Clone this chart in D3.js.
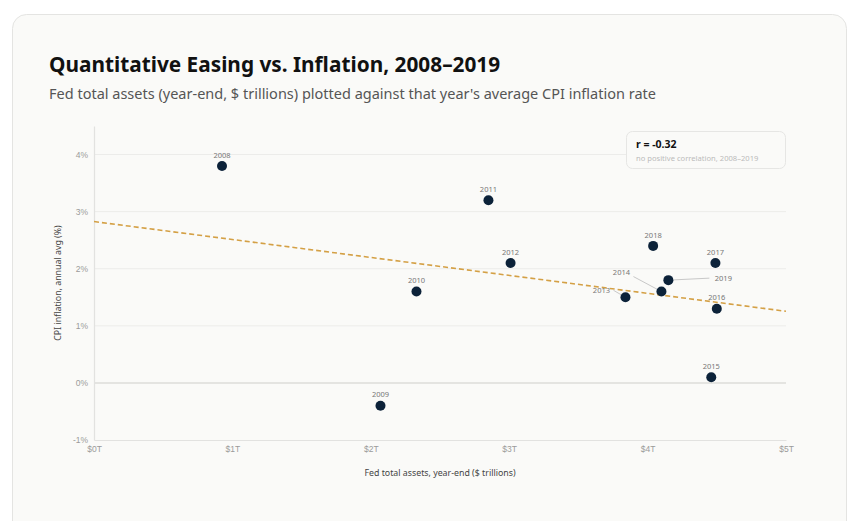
<!DOCTYPE html>
<html>
<head>
<meta charset="utf-8">
<script src="https://cdn.jsdelivr.net/npm/d3@7"></script>
<style>
  body { margin: 0; background: #fff; font-family: "Segoe UI", "Noto Sans", sans-serif; }
  svg { display: block; }
</style>
</head>
<body>
<svg id="canvas" width="848" height="521"></svg>
<script>
// data
const years = [2008, 2009, 2010, 2011, 2012, 2013, 2014, 2015, 2016, 2017, 2018, 2019];
const fedAssets = [0.925, 2.07, 2.33, 2.85, 3.01, 3.84, 4.10, 4.46, 4.50, 4.49, 4.04, 4.15];
const cpiInflation = [3.8, -0.4, 1.6, 3.2, 2.1, 1.5, 1.6, 0.1, 1.3, 2.1, 2.4, 1.8];
const xTicks = [0, 1, 2, 3, 4, 5];
const yTicks = [-1, 0, 1, 2, 3, 4];
const corrLabel = 'r = -0.32';
const corrNote = 'no positive correlation, 2008\u20132019';

let points = years.map((y, i) => ({ year: y, x: fedAssets[i], y: cpiInflation[i] }));

let canvas = d3.select('#canvas');

// card
canvas.append('rect')
  .attr('x', 12.5).attr('y', 14.5)
  .attr('width', 834).attr('height', 560)
  .attr('rx', 14)
  .attr('fill', '#fafaf8')
  .attr('stroke', '#e4e4e2');

canvas.append('text')
  .attr('x', 49).attr('y', 72)
  .attr('font-size', 20.8).attr('font-weight', 700).attr('fill', '#111')
  .text('Quantitative Easing vs. Inflation, 2008\u20132019');

canvas.append('text')
  .attr('x', 49).attr('y', 99)
  .attr('font-size', 14.5).attr('fill', '#555')
  .text('Fed total assets (year-end, $ trillions) plotted against that year\'s average CPI inflation rate');

let xScale = d3.scaleLinear().domain([0, 5]).range([94, 786]);
let yScale = d3.scaleLinear().domain([-1, 4.5]).range([440, 126]);

let plot = canvas.append('g');

// grid lines
plot.selectAll('.grid')
  .data(yTicks.filter(t => t !== -1))
  .enter()
  .append('line')
  .attr('x1', xScale(0)).attr('x2', xScale(5))
  .attr('y1', d => yScale(d)).attr('y2', d => yScale(d))
  .attr('stroke', d => d === 0 ? '#dcdcda' : '#ececea')
  .attr('stroke-width', d => d === 0 ? 1.5 : 1);

// axes
let xAxis = d3.axisBottom(xScale).tickValues(xTicks).tickSize(0).tickPadding(6)
  .tickFormat(d => '$' + d + 'T');
let yAxis = d3.axisLeft(yScale).tickValues(yTicks).tickSize(0).tickPadding(6)
  .tickFormat(d => d + '%');

let gx = plot.append('g').attr('transform', 'translate(0,' + yScale(-1) + ')').call(xAxis);
let gy = plot.append('g').attr('transform', 'translate(' + xScale(0) + ',0)').call(yAxis);
[gx, gy].forEach(g => {
  g.select('.domain').attr('stroke', '#e2e2e0').attr('stroke-width', 1.2);
  g.selectAll('text').attr('font-family', 'inherit').attr('font-size', 8.5).attr('fill', '#9a9a9a');
});

canvas.append('text')
  .attr('x', (xScale(0) + xScale(5)) / 2).attr('y', 476)
  .attr('text-anchor', 'middle')
  .attr('font-size', 8.8).attr('fill', '#444')
  .text('Fed total assets, year-end ($ trillions)');

canvas.append('text')
  .attr('transform', 'translate(61,' + (yScale(-1) + yScale(4.5)) / 2 + ') rotate(-90)')
  .attr('text-anchor', 'middle')
  .attr('font-size', 8.8).attr('fill', '#444')
  .text('CPI inflation, annual avg (%)');

// least-squares trend line
let mx = d3.mean(points, d => d.x);
let my = d3.mean(points, d => d.y);
let slope = d3.sum(points, d => (d.x - mx) * (d.y - my)) / d3.sum(points, d => (d.x - mx) ** 2);
let intercept = my - slope * mx;

plot.append('line')
  .attr('x1', xScale(0)).attr('y1', yScale(intercept))
  .attr('x2', xScale(5)).attr('y2', yScale(intercept + slope * 5))
  .attr('stroke', '#d4a045')
  .attr('stroke-width', 1.6)
  .attr('stroke-dasharray', '5,3');

// label offsets for crowded points (pixels from the dot)
let labelOffset = {
  2013: [-24, -7],
  2014: [-40, -19],
  2019: [55, -2]
};

// leader lines
plot.selectAll('.leader')
  .data(points.filter(d => labelOffset[d.year]))
  .enter()
  .append('line')
  .attr('x1', d => xScale(d.x))
  .attr('y1', d => yScale(d.y))
  .attr('x2', d => {
    let o = labelOffset[d.year];
    return xScale(d.x) + o[0] + (o[0] < 0 ? 12 : -14);
  })
  .attr('y2', d => {
    let o = labelOffset[d.year];
    return yScale(d.y) + o[1] + (o[1] < -10 ? 4 : 0);
  })
  .attr('stroke', '#c8c8c8')
  .attr('stroke-width', 1);

plot.selectAll('.dot')
  .data(points)
  .enter()
  .append('circle')
  .attr('cx', d => xScale(d.x))
  .attr('cy', d => yScale(d.y))
  .attr('r', 5)
  .attr('fill', '#0c2239');

plot.selectAll('.label')
  .data(points)
  .enter()
  .append('text')
  .attr('x', d => xScale(d.x) + (labelOffset[d.year] ? labelOffset[d.year][0] : 0))
  .attr('y', d => yScale(d.y) + (labelOffset[d.year] ? labelOffset[d.year][1] : -11))
  .attr('dy', '0.35em')
  .attr('text-anchor', 'middle')
  .attr('font-size', 7.5)
  .attr('fill', '#777')
  .text(d => d.year);

// correlation note
let note = canvas.append('g');
note.append('rect')
  .attr('x', 626.5).attr('y', 131.5)
  .attr('width', 159).attr('height', 37)
  .attr('rx', 6)
  .attr('fill', '#fafaf8')
  .attr('stroke', '#e6e6e4');
note.append('text')
  .attr('x', 636).attr('y', 148)
  .attr('font-size', 10.5).attr('font-weight', 700).attr('fill', '#111')
  .text(corrLabel);
note.append('text')
  .attr('x', 636).attr('y', 160.5)
  .attr('font-size', 7.6).attr('fill', '#bbb')
  .text(corrNote);
</script>
</body>
</html>
